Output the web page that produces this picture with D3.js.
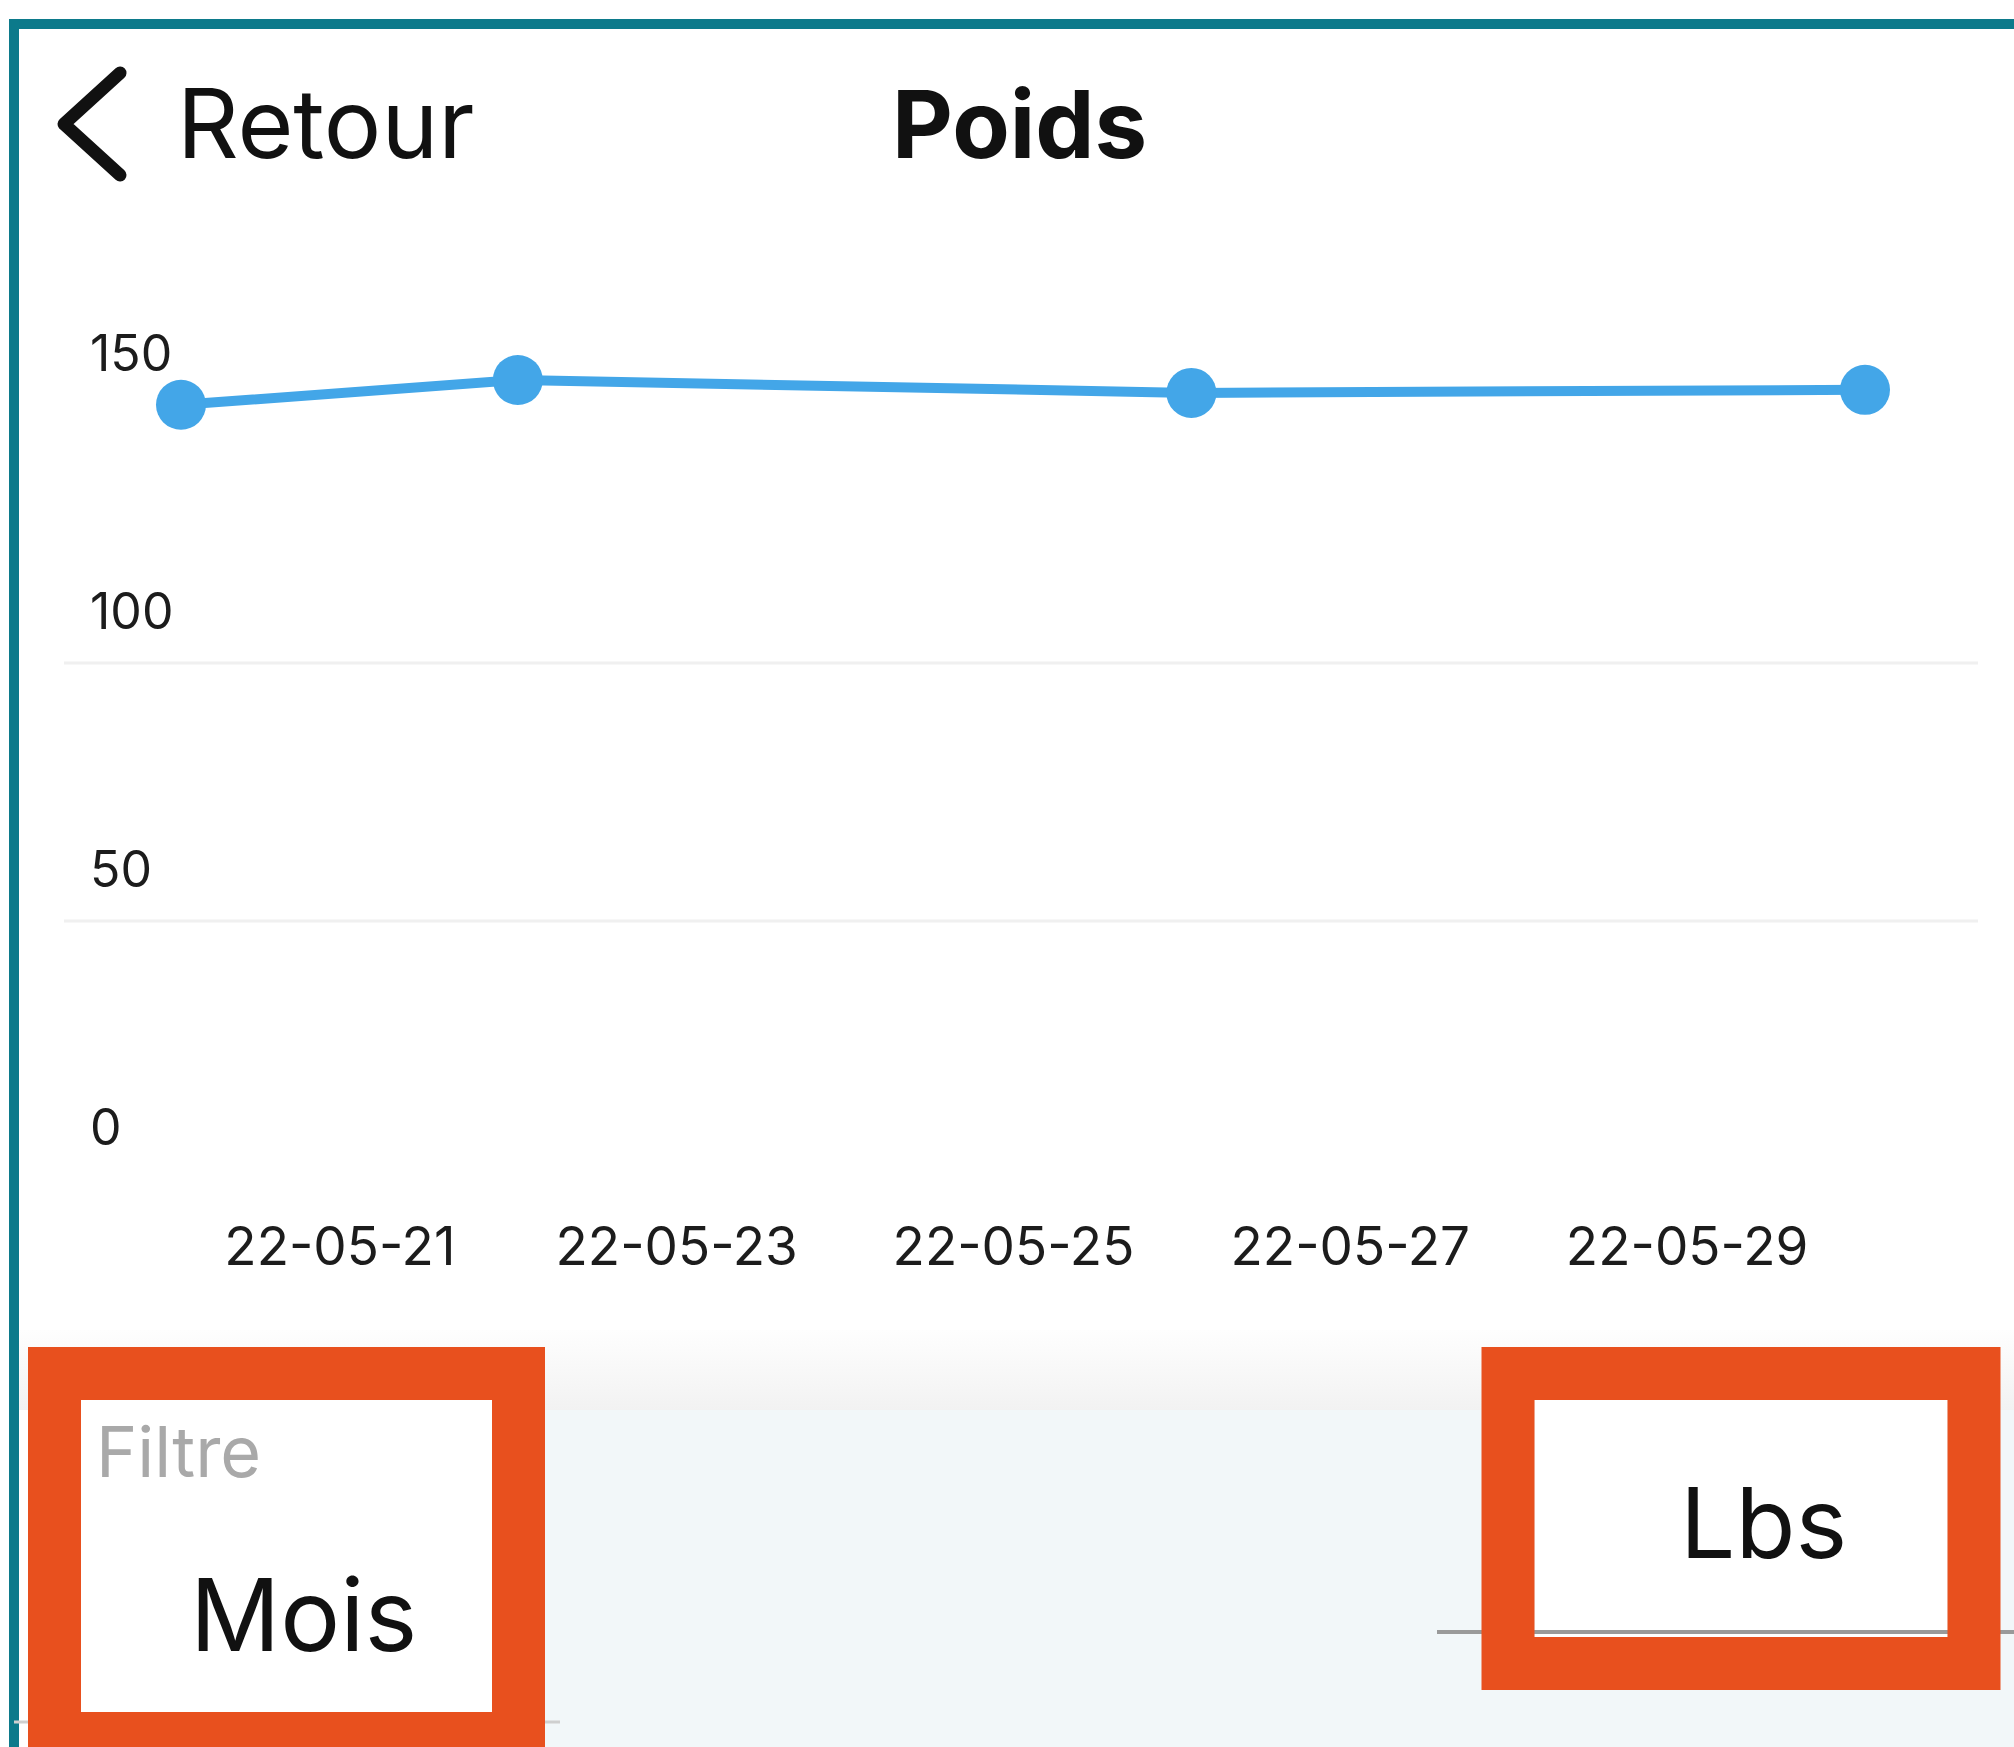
<!DOCTYPE html>
<html lang="fr">
  <head>
    <meta charset="utf-8" />
    <title>Poids</title>
    <script src="https://cdn.jsdelivr.net/npm/d3@7"></script>
    <style>
      body { margin: 0; background: #fff; }
      svg { display: block; font-family: Inter, "Noto Sans", sans-serif; }
      .axis path, .axis line { display: none; }
      .axis text { font-family: Inter, "Noto Sans", sans-serif; fill: #1c1c1c; }
    </style>
  </head>
  <body>
    <script>
      var w = 2014;
      var h = 1747;

      // data
      var dates = ["2022-05-20", "2022-05-22", "2022-05-26", "2022-05-30"];
      var weights = [145.2, 150, 147.5, 148.1];
      var xTickDates = ["2022-05-21", "2022-05-23", "2022-05-25", "2022-05-27", "2022-05-29"];
      var yTicks = [0, 50, 100, 150];
      var gridValues = [50, 100];

      var parse = d3.timeParse("%Y-%m-%d");
      var points = dates.map(function (d, i) {
        return { date: parse(d), value: weights[i] };
      });

      var xScale = d3.scaleTime()
        .domain([parse("2022-05-20"), parse("2022-05-30")])
        .range([181, 1865]);

      var yScale = d3.scaleLinear()
        .domain([0, 150])
        .range([1154, 380]);

      var svg = d3.select("body").append("svg")
        .attr("width", w)
        .attr("height", h);

      var defs = svg.append("defs");
      var shade = defs.append("linearGradient")
        .attr("id", "shade").attr("x1", 0).attr("y1", 0).attr("x2", 0).attr("y2", 1);
      shade.append("stop").attr("offset", "0%").attr("stop-color", "#fefefe");
      shade.append("stop").attr("offset", "100%").attr("stop-color", "#f2f2f2");

      // frame
      svg.append("rect").attr("x", 9).attr("y", 19).attr("width", w - 9).attr("height", 10).attr("fill", "#0c7a8b");
      svg.append("rect").attr("x", 9).attr("y", 19).attr("width", 10).attr("height", h - 19).attr("fill", "#0c7a8b");

      // header
      svg.append("polyline")
        .attr("points", "120,73 64,124 120,175")
        .attr("fill", "none")
        .attr("stroke", "#111")
        .attr("stroke-width", 13)
        .attr("stroke-linecap", "round")
        .attr("stroke-linejoin", "round");

      svg.append("text").attr("x", 177).attr("y", 158)
        .attr("font-size", 96).attr("fill", "#111").text("Retour");
      svg.append("text").attr("x", 892).attr("y", 158)
        .attr("font-size", 94).attr("font-weight", 700).attr("fill", "#111").text("Poids");

      // grid lines (drawn a little below their value, like the app does)
      svg.selectAll(".grid")
        .data(gridValues)
        .enter()
        .append("line")
        .attr("class", "grid")
        .attr("x1", 64).attr("x2", 1978)
        .attr("y1", function (d) { return yScale(d) + 25; })
        .attr("y2", function (d) { return yScale(d) + 25; })
        .attr("stroke", "#f0f0f0")
        .attr("stroke-width", 3);

      // y axis
      var yAxis = svg.append("g")
        .attr("class", "axis")
        .attr("transform", "translate(90,-10)")
        .call(d3.axisLeft(yScale).tickValues(yTicks).tickSize(0).tickPadding(0));
      yAxis.selectAll("text")
        .attr("text-anchor", "start")
        .attr("x", 0)
        .attr("dy", 0)
        .attr("font-size", 50);

      // x axis
      var xAxis = svg.append("g")
        .attr("class", "axis")
        .attr("transform", "translate(-10,1265)")
        .call(d3.axisBottom(xScale)
          .tickValues(xTickDates.map(parse))
          .tickFormat(d3.timeFormat("%y-%m-%d"))
          .tickSize(0).tickPadding(0));
      xAxis.selectAll("text")
        .attr("y", 0)
        .attr("dy", 0)
        .attr("font-size", 53);

      // series
      var line = d3.line()
        .x(function (d) { return xScale(d.date); })
        .y(function (d) { return yScale(d.value); });

      svg.append("path")
        .datum(points)
        .attr("d", line)
        .attr("fill", "none")
        .attr("stroke", "#43a6e8")
        .attr("stroke-width", 10);

      svg.selectAll(".dot")
        .data(points)
        .enter()
        .append("circle")
        .attr("class", "dot")
        .attr("cx", function (d) { return xScale(d.date); })
        .attr("cy", function (d) { return yScale(d.value); })
        .attr("r", 25)
        .attr("fill", "#43a6e8");

      // bottom controls
      svg.append("rect").attr("x", 19).attr("y", 1330).attr("width", w - 19).attr("height", 80).attr("fill", "url(#shade)");
      svg.append("rect").attr("x", 545).attr("y", 1410).attr("width", w - 545).attr("height", h - 1410).attr("fill", "#f2f7f9");
      svg.append("line").attr("x1", 14).attr("x2", 560).attr("y1", 1722).attr("y2", 1722)
        .attr("stroke", "#cfcfcf").attr("stroke-width", 3);

      // left box: filter
      svg.append("rect").attr("x", 81).attr("y", 1400).attr("width", 411).attr("height", 312).attr("fill", "#fff");
      svg.append("text").attr("x", 96).attr("y", 1477)
        .attr("font-size", 70).attr("fill", "#a9a9a9").text("Filtre");
      svg.append("text").attr("x", 190).attr("y", 1651)
        .attr("font-size", 100).attr("fill", "#111").text("Mois");
      svg.append("rect").attr("x", 54.5).attr("y", 1373.5).attr("width", 464).attr("height", 365)
        .attr("fill", "none").attr("stroke", "#e8501e").attr("stroke-width", 53);

      // right box: unit
      svg.append("rect").attr("x", 1535).attr("y", 1400).attr("width", 412).attr("height", 237).attr("fill", "#fff");
      svg.append("line").attr("x1", 1437).attr("x2", w).attr("y1", 1632).attr("y2", 1632)
        .attr("stroke", "#9a9a9a").attr("stroke-width", 4);
      svg.append("text").attr("x", 1680).attr("y", 1558)
        .attr("font-size", 98).attr("fill", "#111").text("Lbs");
      svg.append("rect").attr("x", 1508).attr("y", 1373.5).attr("width", 466).attr("height", 290)
        .attr("fill", "none").attr("stroke", "#e8501e").attr("stroke-width", 53);
    </script>
  </body>
</html>
